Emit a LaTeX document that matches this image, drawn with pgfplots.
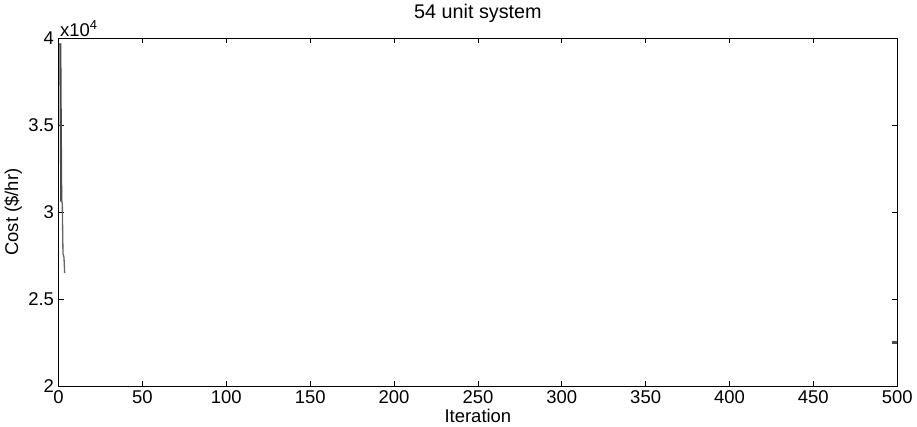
\documentclass[border=0pt]{standalone}
\usepackage{fontspec}
\setmainfont{Liberation Sans}
\usepackage{pgfplots}
\pgfplotsset{compat=1.18}
\begin{document}
\begin{tikzpicture}
\begin{axis}[
    scale only axis,
    width=636pt,
    height=264pt,
    xmin=0, xmax=500,
    ymin=20000, ymax=40000,
    xtick={0,50,...,500},
    ytick={20000,25000,30000,35000,40000},
    yticklabels={2,2.5,3,3.5,4},
    scaled y ticks=false,
    /pgf/number format/assume math mode=true,
    tick align=inside,
    major tick length=4pt,
    tick style={black, line width=0.6pt},
    axis line style={line width=0.8pt},
    ticklabel style={font=\fontsize{14}{16}\selectfont},
    xticklabel style={yshift=0pt},
    title={54 unit system},
    title style={font=\fontsize{15}{17}\selectfont, yshift=2pt},
    xlabel={Iteration},
    ylabel={Cost (\$/hr)},
    label style={font=\fontsize{14}{16}\selectfont},
    xlabel style={yshift=3pt},
    ylabel style={yshift=-2pt},
    clip mode=individual,
]
% early iterations
\addplot[color=black!70, line width=1.6pt] coordinates {
    (1,39700) (1.3,35000) (1.6,30600)
};
\addplot[color=black!60, line width=1pt] coordinates {
    (1.6,30700) (2.2,30500) (2.6,27600) (3.2,27400) (3.6,26500)
};
% final iterations
\addplot[color=black!70, line width=2.5pt] coordinates {
    (497,22500) (500,22500)
};
\node[anchor=south west, inner sep=1pt, font=\fontsize{14}{16}\selectfont] at (rel axis cs:0,1) {x10\textsuperscript{4}};
\end{axis}
\end{tikzpicture}
\end{document}
